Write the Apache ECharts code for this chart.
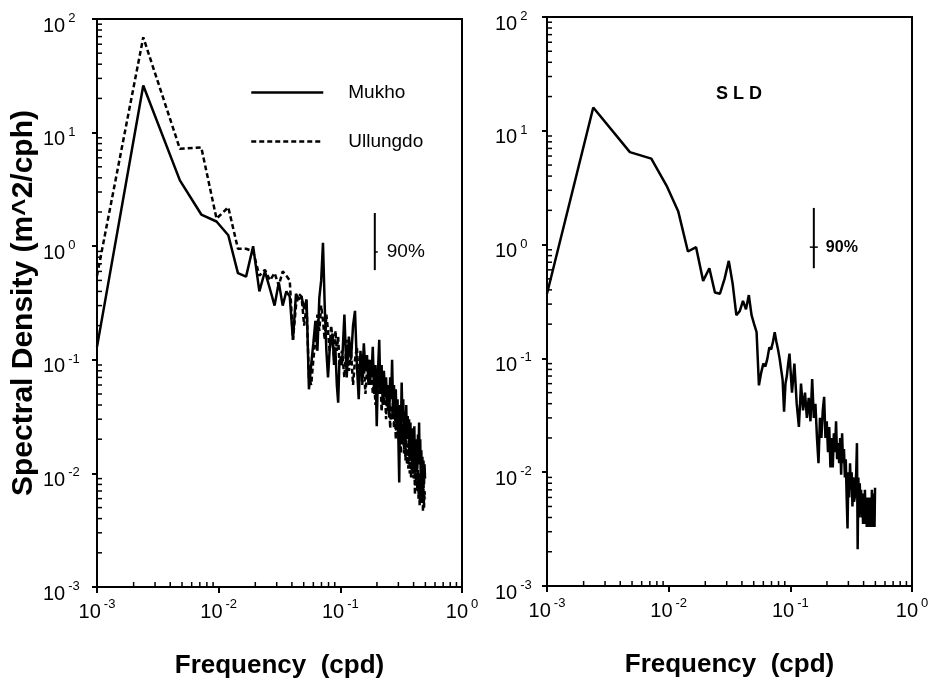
<!DOCTYPE html>
<html><head><meta charset="utf-8">
<script src="https://cdn.jsdelivr.net/npm/echarts@6/dist/echarts.min.js"></script>
<style>html,body{margin:0;padding:0;background:#fff}#c{width:938px;height:684px}</style>
</head><body><div id="c"></div>
<script>
// ---------- DATA ----------
const freqLow = [0.001,
  0.0024,0.0048,0.0072,0.0096,0.012,0.0144,0.0168,0.0192,0.0216,0.024,
  0.0264,0.0288,0.0312,0.0336,0.036,0.0384,0.0408,0.0432,0.0456,0.048,
  0.0504,0.0528,0.0552,0.0576,0.06,0.0624,0.0648,0.0672,0.0696,0.072,
  0.0744,0.0768,0.0792,0.0816,0.084,0.0864,0.0888,0.0912,0.0936,0.096,
  0.0984];
const freqHigh = [
  0.1032,0.108,0.1128,0.1176,0.1224,0.1272,0.132,0.1368,0.1416,0.1464,
  0.1512,0.156,0.1608,0.1656,0.1704,0.1752,0.18,0.1848,0.1896,0.1944,
  0.1992,0.204,0.2088,0.2136,0.2184,0.2232,0.228,0.2328,0.2376,0.2424,
  0.2472,0.252,0.2568,0.2616,0.2664,0.2712,0.276,0.2808,0.2856,0.2904,
  0.2952,0.3,0.3048,0.3096,0.3144,0.3192,0.324,0.3288,0.3336,0.3384,
  0.3432,0.348,0.3528,0.3576,0.3624,0.3672,0.372,0.3768,0.3816,0.3864,
  0.3912,0.396,0.4008,0.4056,0.4104,0.4152,0.42,0.4248,0.4296,0.4344,
  0.4392,0.444,0.4488,0.4536,0.4584,0.4632,0.468,0.4728,0.4776,0.4824,
  0.4872,0.492,0.4968];

const mukhoLow = [0.13,
  26,3.8,1.9,1.65,1.25,0.58,0.54,1.0,0.4,0.6,
  0.42,0.3,0.48,0.3,0.4,0.36,0.15,0.38,0.34,0.36,
  0.28,0.34,0.055,0.09,0.14,0.22,0.12,0.35,0.5,1.07,
  0.3,0.12,0.07,0.12,0.15,0.17,0.09,0.12,0.06,0.042,
  0.1];
const mukhoHigh = [
  0.09,0.25,0.07,0.16,0.1,0.2,0.27,0.09,0.045,0.12,
  0.07,0.14,0.08,0.11,0.06,0.1,0.07,0.13,0.05,0.09,
  0.026,0.08,0.15,0.05,0.09,0.04,0.08,0.05,0.07,0.04,
  0.06,0.031,0.07,0.045,0.1,0.04,0.06,0.03,0.055,0.025,
  0.045,0.02,0.0083,0.04,0.022,0.063,0.03,0.045,0.02,0.035,
  0.018,0.04,0.02,0.032,0.023,0.03,0.015,0.028,0.014,0.025,
  0.012,0.022,0.014,0.026,0.012,0.02,0.011,0.018,0.011,0.022,
  0.013,0.028,0.012,0.02,0.009,0.016,0.008,0.014,0.006,0.013,
  0.008,0.012,0.009];

const ullungdoLow = [0.55,
  69,7.2,7.4,1.75,2.2,0.95,0.95,0.9,0.55,0.62,
  0.5,0.58,0.45,0.6,0.55,0.5,0.15,0.3,0.38,0.36,
  0.2,0.3,0.07,0.06,0.1,0.15,0.25,0.18,0.3,0.22,
  0.15,0.25,0.18,0.12,0.2,0.15,0.1,0.18,0.12,0.16,
  0.09];
const ullungdoHigh = [
  0.12,0.07,0.15,0.08,0.12,0.06,0.1,0.13,0.07,0.1,
  0.06,0.09,0.05,0.08,0.1,0.06,0.09,0.05,0.07,0.04,
  0.06,0.08,0.05,0.07,0.035,0.06,0.04,0.055,0.03,0.05,
  0.035,0.045,0.025,0.04,0.03,0.045,0.025,0.04,0.02,0.035,
  0.022,0.03,0.018,0.028,0.015,0.025,0.018,0.03,0.015,0.022,
  0.013,0.02,0.012,0.018,0.011,0.02,0.01,0.016,0.009,0.015,
  0.01,0.018,0.009,0.014,0.0065,0.013,0.008,0.012,0.007,0.011,
  0.006,0.01,0.0052,0.009,0.006,0.011,0.0055,0.009,0.0046,0.008,
  0.005,0.007,0.006];

const sldLow = [0.37,
  16,6.5,5.7,3.3,1.95,0.87,0.95,0.48,0.62,0.38,
  0.37,0.5,0.72,0.45,0.24,0.26,0.32,0.27,0.36,0.24,
  0.2,0.17,0.058,0.075,0.09,0.085,0.1,0.125,0.12,0.14,
  0.17,0.14,0.12,0.1,0.08,0.065,0.034,0.06,0.07,0.09,
  0.11];
const sldHigh = [
  0.05,0.09,0.04,0.025,0.06,0.035,0.05,0.03,0.045,0.028,
  0.066,0.03,0.04,0.02,0.012,0.03,0.02,0.035,0.046,0.02,
  0.028,0.015,0.025,0.011,0.02,0.011,0.022,0.015,0.028,0.013,
  0.018,0.012,0.02,0.0095,0.022,0.012,0.016,0.009,0.013,0.006,
  0.0032,0.01,0.006,0.012,0.007,0.01,0.005,0.009,0.0055,0.006,
  0.006,0.01,0.018,0.0021,0.009,0.004,0.008,0.005,0.007,0.004,
  0.006,0.0035,0.0065,0.004,0.007,0.0035,0.006,0.0033,0.006,0.0035,
  0.0055,0.0033,0.006,0.0035,0.0055,0.0033,0.007,0.0034,0.0065,0.0033,
  0.006,0.0033,0.0073];

// 90% confidence bars: [frequency, lower, centre, upper]
const ci90Left = [[0.192, 0.616, 0.89, 1.96]];
const ci90Right = [[0.156, 0.62, 0.95, 2.1]];

const minorMultipliers = [2,3,4,5,6,7,8,9];
const xDecades = [0.001, 0.01, 0.1];
const yDecades = [0.001, 0.01, 0.1, 1, 10];

// ---------- BUILD ----------
const freq = freqLow.concat(freqHigh);
const mukho = mukhoLow.concat(mukhoHigh);
const ullungdo = ullungdoLow.concat(ullungdoHigh);
const sld = sldLow.concat(sldHigh);
const pairs = (f, v) => f.map((x, i) => [x, v[i]]).filter(d => d[1] != null);

const minorX = [];
xDecades.forEach(d => minorMultipliers.forEach(m => minorX.push([d * m, 0.001])));
const minorY = [];
yDecades.forEach(d => minorMultipliers.forEach(m => minorY.push([0.001, d * m])));

const FONT = '"Liberation Sans", Arial, Helvetica, sans-serif';
const powLabel = v => '{b|10}{s|' + Math.round(Math.log10(v)) + '}';
const rich = {
  b: {fontSize: 20, fontFamily: FONT, color: '#000', lineHeight: 22, verticalAlign: 'bottom'},
  s: {fontSize: 13, fontFamily: FONT, color: '#000', padding: [0, 0, 11, 3], verticalAlign: 'bottom'}
};

function xAxisCfg(gi) {
  return {
    type: 'log', logBase: 10, gridIndex: gi, min: 0.001, max: 1,
    axisLine: {lineStyle: {color: '#000', width: 2}},
    axisTick: {show: true, inside: false, length: 6, lineStyle: {color: '#000', width: 2}},
    splitLine: {show: false},
    axisLabel: {formatter: powLabel, rich: rich, margin: 11},
    name: 'Frequency  (cpd)', nameLocation: 'middle', nameGap: 66,
    nameTextStyle: {fontSize: 26, fontWeight: 'bold', fontFamily: FONT, color: '#000'}
  };
}
function yAxisCfg(gi, margin, withName) {
  const a = {
    type: 'log', logBase: 10, gridIndex: gi, min: 0.001, max: 100,
    axisLine: {lineStyle: {color: '#000', width: 2}},
    axisTick: {show: true, inside: false, length: 5, lineStyle: {color: '#000', width: 2}},
    splitLine: {show: false},
    axisLabel: {formatter: powLabel, rich: rich, margin: margin, align: 'left', padding: [10, 0, 0, 0]}
  };
  if (withName) {
    a.name = 'Spectral Density (m^2/cph)';
    a.nameLocation = 'middle';
    a.nameGap = 58;
    a.nameTextStyle = {fontSize: 30, fontWeight: 'bold', fontFamily: FONT, color: '#000'};
  }
  return a;
}
function minorSeries(data, xi, isX) {
  return {
    type: 'custom', xAxisIndex: xi, yAxisIndex: xi, data: data, clip: false, silent: true,
    renderItem: (params, api) => {
      const p = api.coord([api.value(0), api.value(1)]);
      const shape = isX ? {x1: p[0], y1: p[1], x2: p[0], y2: p[1] - 5}
                        : {x1: p[0], y1: p[1], x2: p[0] + 5, y2: p[1]};
      return {type: 'line', shape: shape, style: {stroke: '#000', lineWidth: 1.5}};
    }
  };
}
function ciSeries(data, xi, tickL, tickR, font) {
  return {
    type: 'custom', xAxisIndex: xi, yAxisIndex: xi, data: data, clip: false, silent: true,
    encode: {x: 0, y: [1, 2, 3]},
    renderItem: (params, api) => {
      const f = api.value(0);
      const pLo = api.coord([f, api.value(1)]);
      const pMid = api.coord([f, api.value(2)]);
      const pHi = api.coord([f, api.value(3)]);
      return {type: 'group', children: [
        {type: 'line', shape: {x1: pLo[0], y1: pLo[1], x2: pHi[0], y2: pHi[1]}, style: {stroke: '#000', lineWidth: 2}},
        {type: 'line', shape: {x1: pMid[0] - tickL, y1: pMid[1], x2: pMid[0] + tickR, y2: pMid[1]}, style: {stroke: '#000', lineWidth: 1.5}},
        {type: 'text', style: {text: '90%', x: pMid[0] + 12, y: pMid[1], verticalAlign: 'middle', textVerticalAlign: 'middle', font: font, fill: '#000'}}
      ]};
    }
  };
}

const chart = echarts.init(document.getElementById('c'), null, {renderer: 'canvas'});
chart.setOption({
  animation: false,
  backgroundColor: '#fff',
  title: {text: 'S L D', left: 716, top: 85, padding: 0,
    textStyle: {fontSize: 18, fontWeight: 'bold', fontFamily: FONT, color: '#000'}},
  legend: {
    data: ['Mukho', 'Ullungdo'], orient: 'vertical', left: 250, top: 83,
    itemWidth: 72, itemHeight: 20, itemGap: 30, padding: 0,
    itemStyle: {opacity: 0},
    lineStyle: {width: 2.5},
    textStyle: {fontSize: 19, fontFamily: FONT, color: '#000', padding: [0, 0, 0, 20]}
  },
  grid: [
    {left: 97, right: 476, top: 19, bottom: 97, show: true, borderColor: '#000', borderWidth: 2},
    {left: 547, right: 26, top: 17, bottom: 98, show: true, borderColor: '#000', borderWidth: 2}
  ],
  xAxis: [xAxisCfg(0), xAxisCfg(1)],
  yAxis: [yAxisCfg(0, 54, true), yAxisCfg(1, 52, false)],
  series: [
    {name: 'Mukho', type: 'line', xAxisIndex: 0, yAxisIndex: 0, data: pairs(freq, mukho),
      showSymbol: false, symbol: 'none', lineStyle: {color: '#000', width: 2.5}, itemStyle: {color: '#000'}},
    {name: 'Ullungdo', type: 'line', xAxisIndex: 0, yAxisIndex: 0, data: pairs(freq, ullungdo),
      showSymbol: false, symbol: 'none', lineStyle: {color: '#000', width: 2.5, type: [5, 3]}, itemStyle: {color: '#000'}},
    {name: 'SLD', type: 'line', xAxisIndex: 1, yAxisIndex: 1, data: pairs(freq, sld),
      showSymbol: false, symbol: 'none', lineStyle: {color: '#000', width: 2.5}, itemStyle: {color: '#000'}},
    minorSeries(minorX, 0, true), minorSeries(minorY, 0, false),
    minorSeries(minorX, 1, true), minorSeries(minorY, 1, false),
    ciSeries(ci90Left, 0, 0, 3, '19px ' + FONT),
    ciSeries(ci90Right, 1, 4, 4, 'bold 16px ' + FONT)
  ]
});
</script>
</body></html>
